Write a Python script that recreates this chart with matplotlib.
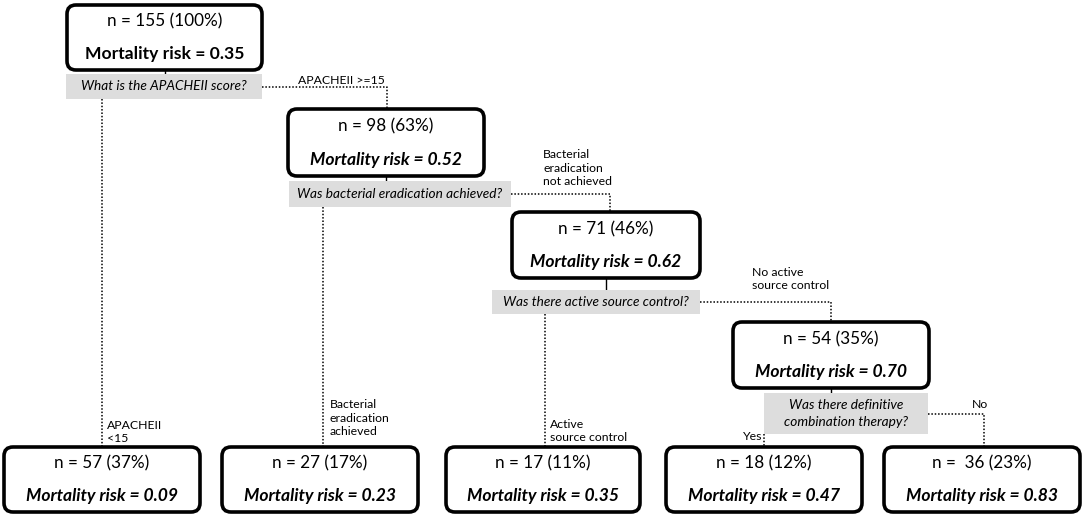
import matplotlib
matplotlib.use("Agg")
import matplotlib.pyplot as plt
from matplotlib.patches import FancyBboxPatch, Rectangle

plt.rcParams['font.family'] = ['Lato', 'DejaVu Sans']

# ---- data ----
node_n = [155, 98, 71, 54, 57, 27, 17, 18, 36]
node_pct = [100, 63, 46, 35, 37, 17, 11, 12, 23]
node_risk = [0.35, 0.52, 0.62, 0.70, 0.09, 0.23, 0.35, 0.47, 0.83]
questions = ["What is the APACHEII score?",
             "Was bacterial eradication achieved?",
             "Was there active source control?",
             "Was there definitive\ncombination therapy?"]
right_labels = ["APACHEII >=15", "Bacterial\neradication\nnot achieved",
                "No active\nsource control", "No"]
left_labels = ["APACHEII\n<15", "Bacterial\neradication\nachieved",
               "Active\nsource control", "Yes"]

# ---- layout (pixel coords) ----
W, H = 1084, 518
fig = plt.figure(figsize=(W / 100, H / 100), dpi=100)
ax = fig.add_axes([0, 0, 1, 1])
ax.set_xlim(0, W)
ax.set_ylim(H, 0)
ax.axis('off')

# boxes: x0, x1, y0, y1
boxes = [(67, 262, 5, 70), (288, 484, 109, 176), (512, 700, 212, 278),
         (733, 929, 322, 388), (4, 200, 447, 512), (222, 418, 447, 512),
         (446, 640, 447, 512), (666, 862, 447, 512), (884, 1080, 447, 512)]
qboxes = [(66, 262, 74, 99), (289, 511, 181, 207), (492, 700, 290, 314),
          (764, 928, 393, 434)]
right_x = [387, 610, 831, 984]
right_child = [1, 2, 3, 8]
left_x = [102, 323, 545, 764]
left_child = [4, 5, 6, 7]
right_lab_pos = [(298, 80), (543, 168), (752, 279), (972, 405)]
left_lab_pos = [(107, 432), (330, 418), (550, 431), (743, 436)]

for i, (x0, x1, y0, y1) in enumerate(boxes):
    r = 9
    p = FancyBboxPatch((x0 + r, y0 + r), (x1 - x0) - 2 * r, (y1 - y0) - 2 * r,
                       boxstyle=f"round,pad={r}", fc='white', ec='black', lw=2.6,
                       zorder=3)
    ax.add_patch(p)
    cx = (x0 + x1) / 2
    yc = (y0 + y1) / 2
    sp = "  " if i == 8 else " "
    ax.text(cx, yc - 16, f"n ={sp}{node_n[i]} ({node_pct[i]}%)", ha='center',
            va='center', fontsize=12.3, zorder=4)
    style = 'normal' if i == 0 else 'italic'
    ax.text(cx, yc + 17, f"Mortality risk = {node_risk[i]:.2f}", ha='center',
            va='center', fontsize=12.6, fontweight='bold', fontstyle=style,
            zorder=4)

dot = dict(color='black', lw=1.1, ls=(0, (1, 1.2)), zorder=1)
parents = [0, 1, 2, 3]
for k, (x0, x1, y0, y1) in enumerate(qboxes):
    ax.add_patch(Rectangle((x0, y0), x1 - x0, y1 - y0, fc='#dddddd', ec='none',
                           zorder=2))
    ax.text((x0 + x1) / 2, (y0 + y1) / 2, questions[k], ha='center',
            va='center', fontsize=9.8, fontstyle='italic', zorder=4,
            linespacing=1.55)
    px0, px1, py0, py1 = boxes[parents[k]]
    pcx = (px0 + px1) / 2
    ax.plot([pcx, pcx], [py1, y0], color='black', lw=1.0, zorder=1)
    ym = (y0 + y1) / 2
    cb = boxes[right_child[k]]
    ax.plot([x1, right_x[k], right_x[k]], [ym, ym, cb[2]], **dot)
    lb = boxes[left_child[k]]
    ax.plot([left_x[k], left_x[k]], [y1, lb[2]], **dot)
    tx, ty = right_lab_pos[k]
    ax.text(tx, ty, right_labels[k], ha='left', va='center', fontsize=8.8,
            linespacing=1.3, zorder=4)
    tx, ty = left_lab_pos[k]
    ax.text(tx, ty, left_labels[k], ha='left', va='center', fontsize=8.8,
            linespacing=1.3, zorder=4)

fig.savefig("out.png", dpi=100, facecolor='white')
